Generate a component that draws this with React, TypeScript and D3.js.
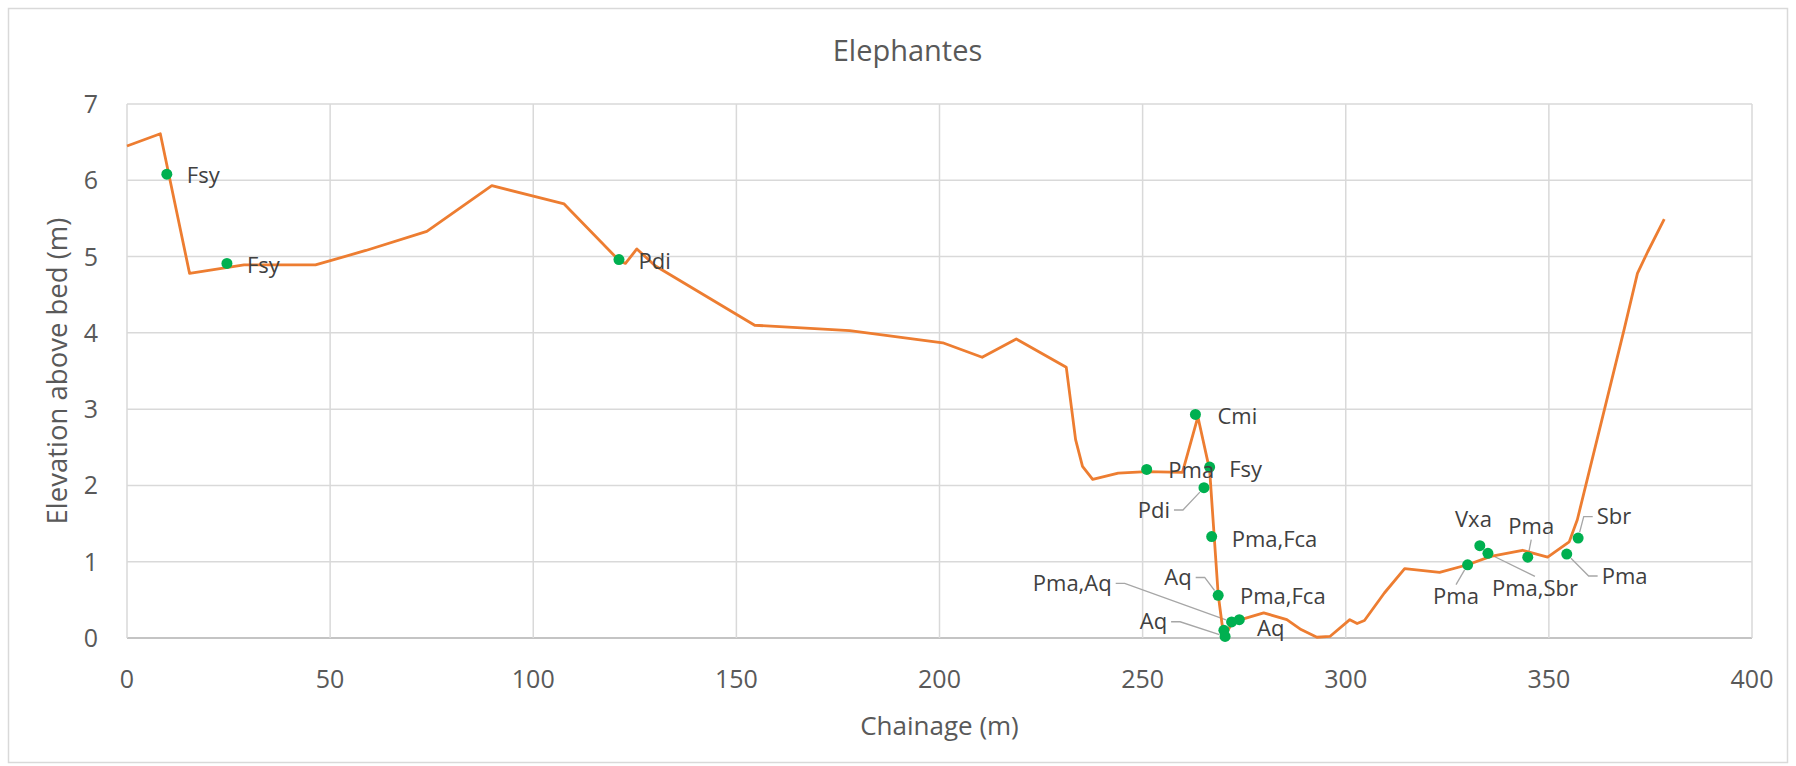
import React, { useMemo } from 'react';
import * as d3 from 'd3';

// bed profile (chainage m, elevation above bed m)
const profileX = [0, 8.2, 15.4, 28.8, 46.4, 58.8, 73.8, 89.8, 107.6, 121.1, 122.7, 125.5, 130, 154.5, 177.9, 200.8, 210.5, 218.9, 231.2, 233.5, 235.2, 237.7, 244, 251, 259.8, 263.6, 266.5, 268.6, 270.0, 272, 274.8, 279.8, 285.5, 289, 292.9, 296.1, 301, 302.8, 304.6, 309.5, 314.5, 323.1, 330, 335.7, 343.5, 349.7, 355, 357, 368.5, 371.8, 374.3, 378.4];
const profileY = [6.45, 6.61, 4.78, 4.89, 4.89, 5.08, 5.33, 5.93, 5.69, 4.95, 4.91, 5.1, 4.88, 4.1, 4.03, 3.87, 3.68, 3.92, 3.55, 2.6, 2.25, 2.08, 2.16, 2.18, 2.17, 2.9, 2.2, 0.57, 0.0, 0.2, 0.25, 0.33, 0.24, 0.11, 0.01, 0.02, 0.24, 0.19, 0.23, 0.59, 0.91, 0.86, 0.96, 1.07, 1.15, 1.06, 1.26, 1.55, 4.04, 4.78, 5.06, 5.49];

// sampled species points
const sampleX = [9.8, 24.6, 121.1, 251.0, 263.0, 266.5, 265.1, 267.0, 268.6, 273.8, 271.9, 270.0, 270.3, 330.0, 333.0, 335.0, 344.8, 354.4, 357.2];
const sampleY = [6.08, 4.91, 4.96, 2.21, 2.93, 2.24, 1.97, 1.33, 0.56, 0.24, 0.21, 0.1, 0.02, 0.96, 1.21, 1.11, 1.06, 1.1, 1.31];
const sampleNames = ['Fsy', 'Fsy', 'Pdi', 'Pma', 'Cmi', 'Fsy', 'Pdi', 'Pma,Fca', 'Aq', 'Pma,Fca', 'Pma,Aq', 'Aq', 'Aq', 'Pma', 'Vxa', 'Pma,Sbr', 'Pma', 'Pma', 'Sbr'];

const xTicks = [0, 50, 100, 150, 200, 250, 300, 350, 400];
const yTicks = [0, 1, 2, 3, 4, 5, 6, 7];

// label placement relative to its point: [dx, dy, anchor, leader]
const labelLayout: [number, number, string, string][] = [
  [20, 1, 'start', ''],
  [20, 2, 'start', ''],
  [19.5, 2, 'start', ''],
  [21.6, 1.3, 'start', ''],
  [22, 2, 'start', ''],
  [19.6, 2.2, 'start', ''],
  [-34, 22.3, 'end', 'right'],
  [20, 2.8, 'start', ''],
  [-26.5, -17.8, 'end', 'right'],
  [0.7, -23.3, 'start', ''],
  [-119.9, -38.7, 'end', 'right'],
  [33.2, -2.1, 'start', ''],
  [-58, -14.7, 'end', 'right'],
  [-11.6, 31.9, 'middle', 'top'],
  [-24.8, -26.4, 'start', ''],
  [47, 35, 'middle', 'top'],
  [3.5, -30.4, 'middle', 'bottom'],
  [34.9, 21.9, 'start', 'left'],
  [18.6, -21.4, 'start', 'left'],
];

const W = 1796;
const H = 766;
const margin = { left: 127, right: 44, top: 104, bottom: 128 };
const FONT = "'Open Sans', 'Noto Sans', sans-serif";
const LABEL_SIZE = 22;

const measure = (text: string, size: number) => {
  const ctx = document.createElement('canvas').getContext('2d');
  if (!ctx) return text.length * size * 0.55;
  ctx.font = `${size}px 'Open Sans'`;
  return ctx.measureText(text).width;
};

const App = () => {
  const x = d3.scaleLinear().domain([0, 400]).range([margin.left, W - margin.right]);
  const y = d3.scaleLinear().domain([0, 7]).range([H - margin.bottom, margin.top]);

  const profile = profileX.map((d, i) => [d, profileY[i]] as [number, number]);
  const linePath = d3.line<[number, number]>().x(d => x(d[0])).y(d => y(d[1]))(profile) || '';

  const labels = useMemo(() => sampleNames.map((name, i) => {
    const px = x(sampleX[i]);
    const py = y(sampleY[i]);
    const [dx, dy, anchor, side] = labelLayout[i];
    const w = measure(name, LABEL_SIZE);
    const tx = px + dx;
    const ty = py + dy;
    const left = anchor === 'start' ? tx : anchor === 'end' ? tx - w : tx - w / 2;
    let leader = '';
    if (side) {
      let pts: [number, number][] = [];
      if (side === 'right') pts = [[left + w + 4, ty], [left + w + 13, ty]];
      if (side === 'left') pts = [[left - 4, ty], [left - 13, ty]];
      if (side === 'top') pts = [[left + w / 2, ty - 12]];
      if (side === 'bottom') pts = [[left + w / 2, ty + 13]];
      const [lx, ly] = pts[pts.length - 1];
      const len = Math.hypot(px - lx, py - ly) || 1;
      const ex = px - ((px - lx) / len) * 6;
      const ey = py - ((py - ly) / len) * 6;
      leader = 'M' + pts.map(p => p.join(',')).join('L') + `L${ex},${ey}`;
    }
    return { name, px, py, tx, ty, anchor, leader };
  }), []);

  return (
    <svg width={W} height={H} style={{ position: 'absolute', left: 0, top: 0, background: '#fff' }} fontFamily={FONT}>
      <rect x={8.5} y={8.5} width={W - 17} height={H - 12} fill="#fff" stroke="#d9d9d9" strokeWidth={1.5} />

      <text x={(x(0) + x(400)) / 2 - 32} y={61} textAnchor="middle" fontSize={29} fill="#595959">Elephantes</text>

      {/* grid */}
      {yTicks.map(t => (
        <line key={'gy' + t} x1={x(0)} x2={x(400)} y1={y(t)} y2={y(t)} stroke={t === 0 ? '#c4c4c4' : '#d9d9d9'} strokeWidth={t === 0 ? 2 : 1.5} />
      ))}
      {xTicks.map(t => (
        <line key={'gx' + t} x1={x(t)} x2={x(t)} y1={y(7)} y2={y(0)} stroke="#d9d9d9" strokeWidth={1.5} />
      ))}

      {/* tick labels */}
      {yTicks.map(t => (
        <text key={'ty' + t} x={98} y={y(t)} dy="0.36em" textAnchor="end" fontSize={25} fill="#595959">{t}</text>
      ))}
      {xTicks.map(t => (
        <text key={'tx' + t} x={x(t)} y={688} textAnchor="middle" fontSize={25} fill="#595959">{t}</text>
      ))}

      <text x={(x(0) + x(400)) / 2} y={735} textAnchor="middle" fontSize={26} fill="#595959">Chainage (m)</text>
      <text transform={`translate(57,${(y(0) + y(7)) / 2}) rotate(-90)`} dy="0.35em" textAnchor="middle" fontSize={27.5} fill="#595959">Elevation above bed (m)</text>

      {/* leaders */}
      {labels.map((l, i) => l.leader && (
        <path key={'ld' + i} d={l.leader} fill="none" stroke="#a6a6a6" strokeWidth={1.3} />
      ))}

      <path d={linePath} fill="none" stroke="#ed7d31" strokeWidth={2.8} strokeLinejoin="round" />

      {labels.map((l, i) => (
        <circle key={'pt' + i} cx={l.px} cy={l.py} r={5.5} fill="#00b050" />
      ))}

      {labels.map((l, i) => (
        <text key={'lb' + i} x={l.tx} y={l.ty} dy="0.35em" textAnchor={l.anchor} fontSize={LABEL_SIZE} fill="#404040">{l.name}</text>
      ))}
    </svg>
  );
};

export default App;
